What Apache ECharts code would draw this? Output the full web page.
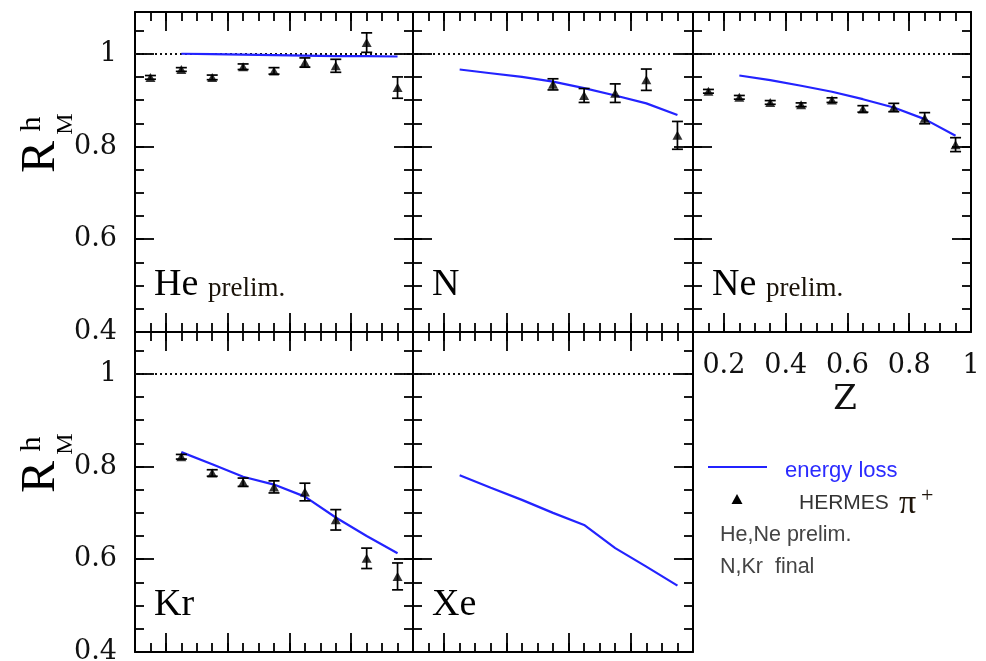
<!DOCTYPE html>
<html>
<head>
<meta charset="utf-8">
<script src="https://cdn.jsdelivr.net/npm/echarts@6/dist/echarts.min.js"></script>
<style>
  html, body { margin: 0; padding: 0; background: #fff; }
  #chart { width: 986px; height: 661px; }
</style>
</head>
<body>
<div id="chart"></div>
<script>
// z bin centres of the measured ratios and of the energy-loss model curve
const zAll   = [0.15, 0.25, 0.35, 0.45, 0.55, 0.65, 0.75, 0.85, 0.95];
const zModel = [0.25, 0.35, 0.45, 0.55, 0.65, 0.75, 0.85, 0.95];
const zN     = [0.55, 0.65, 0.75, 0.85, 0.95];
const zKr    = [0.25, 0.35, 0.45, 0.55, 0.65, 0.75, 0.85, 0.95];

// Helium (preliminary)
const heRatio = [0.949, 0.966, 0.949, 0.972, 0.963, 0.981, 0.974, 1.024, 0.927];
const heError = [0.004, 0.004, 0.005, 0.006, 0.007, 0.010, 0.014, 0.021, 0.023];
const heModel = [1.000, 0.999, 0.998, 0.997, 0.996, 0.995, 0.995, 0.994];

// Nitrogen (final)
const nRatio = [0.934, 0.910, 0.915, 0.944, 0.824];
const nError = [0.012, 0.015, 0.020, 0.023, 0.030];
const nModel = [0.966, 0.958, 0.950, 0.940, 0.926, 0.910, 0.893, 0.868];

// Neon (preliminary)
const neRatio = [0.919, 0.906, 0.895, 0.890, 0.900, 0.881, 0.884, 0.861, 0.804];
const neError = [0.004, 0.004, 0.004, 0.004, 0.005, 0.007, 0.009, 0.012, 0.015];
const neModel = [0.953, 0.943, 0.931, 0.918, 0.902, 0.884, 0.859, 0.823];

// Krypton (final)
const krRatio = [0.821, 0.786, 0.766, 0.756, 0.745, 0.685, 0.602, 0.563];
const krError = [0.005, 0.007, 0.009, 0.013, 0.019, 0.022, 0.022, 0.029];
const krModel = [0.831, 0.805, 0.778, 0.761, 0.735, 0.690, 0.650, 0.613];

// Xenon (model only)
const xeModel = [0.781, 0.754, 0.728, 0.700, 0.674, 0.624, 0.584, 0.543];

// Axis ticks and labels
const xMajorTicks = [0.2, 0.4, 0.6, 0.8, 1.0];
const yMajorTicks = [0.4, 0.6, 0.8, 1.0];
const xRange = [0.1, 1.0];
const yRange = [0.4, 1.09];

const panels = [
  { tag: 'He', note: 'prelim.', z: zAll, r: heRatio, e: heError, m: heModel,
    box: { left: 135, top: 12, width: 278 }, yLabels: true,  xLabels: false },
  { tag: 'N',  note: '',        z: zN,   r: nRatio,  e: nError,  m: nModel,
    box: { left: 413, top: 12, width: 280 }, yLabels: false, xLabels: false },
  { tag: 'Ne', note: 'prelim.', z: zAll, r: neRatio, e: neError, m: neModel,
    box: { left: 693, top: 12, width: 278 }, yLabels: false, xLabels: true },
  { tag: 'Kr', note: '',        z: zKr,  r: krRatio, e: krError, m: krModel,
    box: { left: 135, top: 332, width: 278 }, yLabels: true,  xLabels: false },
  { tag: 'Xe', note: '',        z: [],   r: [],      e: [],      m: xeModel,
    box: { left: 413, top: 332, width: 280 }, yLabels: false, xLabels: false }
];

const PANEL_H = 320;
const INK = '#000';
const BLUE = '#2323ff';
const SERIF = '"DejaVu Serif", serif';
const TIMES = '"Liberation Serif", "Times New Roman", serif';
const SANS = '"Liberation Sans", Arial, sans-serif';

const fmt = v => String(+(+v).toFixed(2));

const grids = [], xAxes = [], yAxes = [], series = [], graphics = [];

function minorAxis(gi, pos, range, step) {
  return {
    type: 'value', gridIndex: gi, position: pos,
    min: range[0], max: range[1], interval: step,
    axisLine: { show: true, onZero: false, lineStyle: { color: INK, width: 2 } },
    axisTick: { show: true, inside: true, length: 9, lineStyle: { color: INK, width: 1.8 } },
    axisLabel: { show: false },
    splitLine: { show: false }
  };
}
function majorAxis(gi, pos, range, ticks, showLabels, labelOpts) {
  return {
    type: 'value', gridIndex: gi, position: pos,
    min: range[0], max: range[1], interval: 0.2,
    axisLine: { show: false, onZero: false },
    axisTick: { show: true, inside: true, length: 19, customValues: ticks,
                lineStyle: { color: INK, width: 1.8 } },
    axisLabel: Object.assign({ show: showLabels, customValues: ticks, formatter: fmt,
                color: '#111', fontFamily: SERIF, fontSize: 27 }, labelOpts || {}),
    splitLine: { show: false }
  };
}

function renderError(params, api) {
  const x = api.value(0);
  const lo = api.coord([x, api.value(1)]);
  const hi = api.coord([x, api.value(2)]);
  const cap = 5.5;
  const style = { stroke: INK, lineWidth: 1.7 };
  return {
    type: 'group',
    children: [
      { type: 'line', shape: { x1: lo[0], y1: lo[1], x2: hi[0], y2: hi[1] }, style },
      { type: 'line', shape: { x1: lo[0] - cap, y1: lo[1], x2: lo[0] + cap, y2: lo[1] }, style },
      { type: 'line', shape: { x1: hi[0] - cap, y1: hi[1], x2: hi[0] + cap, y2: hi[1] }, style }
    ]
  };
}

panels.forEach((p, gi) => {
  grids.push({ left: p.box.left, top: p.box.top, width: p.box.width, height: PANEL_H,
               outerBoundsMode: 'none', containLabel: false });

  xAxes.push(minorAxis(gi, 'bottom', xRange, 0.05));
  xAxes.push(majorAxis(gi, 'bottom', xRange, xMajorTicks, p.xLabels, { margin: 20 }));
  xAxes.push(minorAxis(gi, 'top', xRange, 0.05));
  xAxes.push(majorAxis(gi, 'top', xRange, xMajorTicks, false));

  yAxes.push(minorAxis(gi, 'left', yRange, 0.05));
  yAxes.push(majorAxis(gi, 'left', yRange, yMajorTicks, p.yLabels, { margin: 18 }));
  yAxes.push(minorAxis(gi, 'right', yRange, 0.05));
  yAxes.push(majorAxis(gi, 'right', yRange, yMajorTicks, false));

  const xi = gi * 4, yi = gi * 4;

  // energy-loss model curve, with the dotted unity line beneath it
  series.push({
    type: 'line', xAxisIndex: xi, yAxisIndex: yi, z: 3,
    data: zModel.map((z, i) => [z, p.m[i]]),
    showSymbol: false, symbol: 'none', smooth: false,
    lineStyle: { color: BLUE, width: 2.2 },
    markLine: {
      silent: true, symbol: 'none', z: 1, label: { show: false },
      lineStyle: { color: '#111', width: 2, type: [2, 3] },
      data: [{ yAxis: 1 }]
    }
  });

  if (p.z.length) {
    series.push({
      type: 'custom', xAxisIndex: xi, yAxisIndex: yi, z: 4,
      renderItem: renderError,
      encode: { x: 0, y: [1, 2] },
      data: p.z.map((z, i) => [z, p.r[i] - p.e[i], p.r[i] + p.e[i]])
    });
    series.push({
      type: 'scatter', xAxisIndex: xi, yAxisIndex: yi, z: 5,
      symbol: 'triangle', symbolSize: [10, 9],
      itemStyle: { color: INK },
      data: p.z.map((z, i) => [z, p.r[i]])
    });
  }

  // target label in the lower-left corner of each panel
  const labelY = p.box.top + 273;
  graphics.push({
    type: 'text', x: p.box.left + 19, y: labelY,
    style: { text: p.tag, fill: INK, font: '38px ' + TIMES, align: 'left', verticalAlign: 'middle' }
  });
  if (p.note) {
    graphics.push({
      type: 'text', x: p.box.left + 19 + 54, y: labelY + 4,
      style: { text: p.note, fill: '#1a1208', font: '27px ' + TIMES, align: 'left', verticalAlign: 'middle' }
    });
  }
});

// rotated R^h_M titles for both rows
[0, 320].forEach(dy => {
  graphics.push(
    { type: 'text', x: 41, y: 157 + dy, rotation: Math.PI / 2,
      style: { text: 'R', fill: INK, font: '48px ' + TIMES, align: 'center', verticalAlign: 'middle' } },
    { type: 'text', x: 32, y: 124 + dy, rotation: Math.PI / 2,
      style: { text: 'h', fill: INK, font: '30px ' + TIMES, align: 'center', verticalAlign: 'middle' } },
    { type: 'text', x: 66, y: 124 + dy, rotation: Math.PI / 2,
      style: { text: 'M', fill: INK, font: '24px ' + TIMES, align: 'center', verticalAlign: 'middle' } }
  );
});

// z axis title under the Ne panel
graphics.push({
  type: 'text', x: 845, y: 400,
  style: { text: 'Z', fill: '#111', font: '34px ' + SERIF, align: 'center', verticalAlign: 'middle' }
});

// key
graphics.push(
  { type: 'line', shape: { x1: 708, y1: 467, x2: 767, y2: 467 }, style: { stroke: BLUE, lineWidth: 2 } },
  { type: 'text', x: 785, y: 471,
    style: { text: 'energy loss', fill: '#2b2bff', font: '22px ' + SANS, align: 'left', verticalAlign: 'middle' } },
  { type: 'polygon', shape: { points: [[737, 494], [742.5, 504], [731.5, 504]] }, style: { fill: INK } },
  { type: 'text', x: 799, y: 503,
    style: { text: 'HERMES', fill: '#333', font: '21px ' + SANS, align: 'left', verticalAlign: 'middle' } },
  { type: 'text', x: 899, y: 504,
    style: { text: 'π', fill: '#1e140a', font: '34px ' + TIMES, align: 'left', verticalAlign: 'middle' } },
  { type: 'text', x: 921, y: 496,
    style: { text: '+', fill: '#1e140a', font: '22px ' + TIMES, align: 'left', verticalAlign: 'middle' } },
  { type: 'text', x: 720, y: 535,
    style: { text: 'He,Ne prelim.', fill: '#444', font: '21.5px ' + SANS, align: 'left', verticalAlign: 'middle' } },
  { type: 'text', x: 720, y: 567,
    style: { text: 'N,Kr  final', fill: '#444', font: '21.5px ' + SANS, align: 'left', verticalAlign: 'middle' } }
);

const chart = echarts.init(document.getElementById('chart'), null, { renderer: 'canvas' });
chart.setOption({
  animation: false,
  backgroundColor: '#fff',
  grid: grids,
  xAxis: xAxes,
  yAxis: yAxes,
  series: series,
  graphic: graphics
});
</script>
</body>
</html>
